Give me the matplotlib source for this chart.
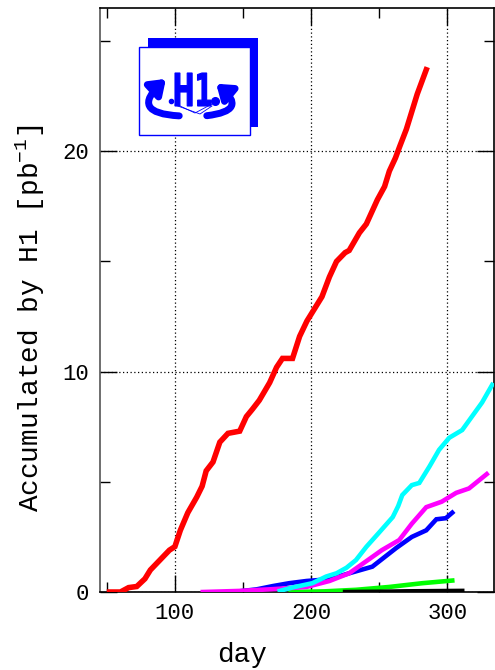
import matplotlib
matplotlib.use("Agg")
import matplotlib.pyplot as plt
import numpy as np
from matplotlib.patches import Rectangle, FancyArrowPatch, PathPatch
from matplotlib.textpath import TextPath
from matplotlib.font_manager import FontProperties
from matplotlib.transforms import Affine2D

plt.rcParams['font.family'] = ['Liberation Mono', 'DejaVu Sans']
plt.rcParams['mathtext.fontset'] = 'custom'
plt.rcParams['mathtext.rm'] = 'Liberation Mono'
plt.rcParams['mathtext.it'] = 'Liberation Mono'

# accumulated luminosity per year (day, pb^-1)
red_day = [52, 60, 66, 72, 78, 82, 89, 96, 100, 104, 109.5, 116, 120, 123, 128,
           133, 139, 147.6, 152.5, 157, 162, 169.6, 174.7, 179, 186.4, 191.6,
           197, 203, 208, 213.5, 218.7, 225, 228, 235.5, 240.6, 248.7, 254,
           257.5, 262, 265, 270, 273.5, 278, 284.6]
red_lum = [0, 0, 0.2, 0.25, 0.6, 1.0, 1.45, 1.9, 2.06, 2.8, 3.6, 4.3, 4.8, 5.5,
           5.9, 6.8, 7.2, 7.3, 7.96, 8.3, 8.7, 9.5, 10.2, 10.6, 10.6, 11.6,
           12.3, 12.9, 13.4, 14.3, 15.0, 15.4, 15.5, 16.3, 16.7, 17.8, 18.4,
           19.1, 19.7, 20.2, 21.0, 21.7, 22.6, 23.7]

cyan_day = [177, 186, 201, 211, 218.7, 226, 233, 240.6, 250, 260, 264, 267, 274,
            279.5, 287, 294, 301.5, 311, 318, 325.6, 333]
cyan_lum = [0.05, 0.2, 0.4, 0.7, 0.85, 1.1, 1.45, 2.05, 2.7, 3.4, 3.9, 4.4, 4.85,
            4.95, 5.7, 6.45, 7.0, 7.35, 7.95, 8.6, 9.4]

magenta_day = [120.5, 147.6, 172, 196.7, 213.5, 228, 240.6, 252, 264.8, 274,
               284.6, 296, 306.6, 316, 329]
magenta_lum = [0, 0.05, 0.13, 0.23, 0.5, 0.85, 1.4, 1.9, 2.36, 3.1, 3.85, 4.1,
               4.5, 4.7, 5.35]

blue_day = [143, 160, 172, 184, 196.7, 213.5, 228, 245, 262.6, 274, 284.6,
            292, 299, 303.7]
blue_lum = [0, 0.12, 0.27, 0.4, 0.5, 0.58, 0.85, 1.15, 2.0, 2.5, 2.8, 3.3,
            3.35, 3.6]

green_day = [185, 210, 233, 257.5, 281.7, 303.7]
green_lum = [0, 0.03, 0.1, 0.23, 0.4, 0.52]

black_day = [225, 250, 270, 290, 311]
black_lum = [0, 0.01, 0.03, 0.04, 0.05]

series = [(red_day, red_lum, '#ff0000', 4.0),
          (green_day, green_lum, '#00ff00', 3.3),
          (black_day, black_lum, '#000000', 3.3),
          (blue_day, blue_lum, '#0000ff', 3.3),
          (magenta_day, magenta_lum, '#ff00ff', 3.3),
          (cyan_day, cyan_lum, '#00ffff', 3.3)]

fig = plt.figure(figsize=(4.95, 6.70), dpi=100)
ax = fig.add_axes([0.202, 0.1164, 0.795, 0.8716])

for d, l, c, lw in series:
    ax.plot(d, l, color=c, lw=lw, solid_joinstyle='miter', zorder=3)

ax.set_xlim(45, 334)
ax.set_ylim(0, 26.5)
ax.set_xticks([100, 200, 300])
ax.set_xticks([50, 150, 250], minor=True)
ax.set_yticks([0, 10, 20])
ax.set_yticks([5, 15, 25], minor=True)
ax.grid(True, which='major', linestyle=(0, (1, 2)), color='black', lw=0.9)
ax.tick_params(which='both', direction='in', top=True, right=True,
               labelsize=16, pad=8)
ax.tick_params(which='major', length=12, width=1.0)
ax.tick_params(which='minor', length=7, width=1.0)
for s in ax.spines.values():
    s.set_linewidth(1.2)
ax.spines['left'].set_color('#555555')

ax.set_xlabel('day', fontsize=20, labelpad=14)
ax.xaxis.set_label_coords(0.36, -0.086)
ax.set_ylabel('Accumulated by H1 [pb$^{-1}$]', fontsize=20, labelpad=14)
ax.yaxis.set_label_coords(-0.135, 0.469)

# H1 logo overlay in pixel coordinates
ov = fig.add_axes([0, 0, 1, 1], zorder=5)
ov.set_xlim(0, 495)
ov.set_ylim(670, 0)
ov.axis('off')
blue = '#0000ff'
ov.add_patch(Rectangle((148, 38), 110, 9, color=blue, lw=0))
ov.add_patch(Rectangle((250, 38), 8, 89, color=blue, lw=0))
ov.add_patch(Rectangle((139, 47), 111, 88, facecolor='white',
                       edgecolor=blue, lw=1.0))

tp = TextPath((0, 0), 'H1', size=10, prop=FontProperties(family='DejaVu Sans',
                                                          weight='bold'))
bb = tp.get_extents()
sx = 36 / bb.width
sy = 33 / bb.height
tr = Affine2D().translate(-bb.x0, -bb.y0).scale(sx, -sy).translate(175, 106)
ov.add_patch(PathPatch(tr.transform_path(tp), color=blue, lw=0.8))
ov.plot([215], [101], 'o', color=blue, ms=5.5)
ov.plot([171], [101], 'o', color=blue, ms=3)

ov.add_patch(FancyArrowPatch((182, 116), (168, 77), connectionstyle='arc3,rad=-1.25',
                             arrowstyle='-|>,head_length=7,head_width=5',
                             color=blue, lw=5, mutation_scale=1.2))
ov.add_patch(FancyArrowPatch((204, 116), (214, 82), connectionstyle='arc3,rad=1.25',
                             arrowstyle='-|>,head_length=7,head_width=5',
                             color=blue, lw=5, mutation_scale=1.2))
ov.plot([175, 200, 212], [105, 114, 106], color=blue, lw=0.6)
ov.plot([180, 195, 212], [106, 113, 104], color=blue, lw=0.6)

fig.savefig('out.png', dpi=100)
